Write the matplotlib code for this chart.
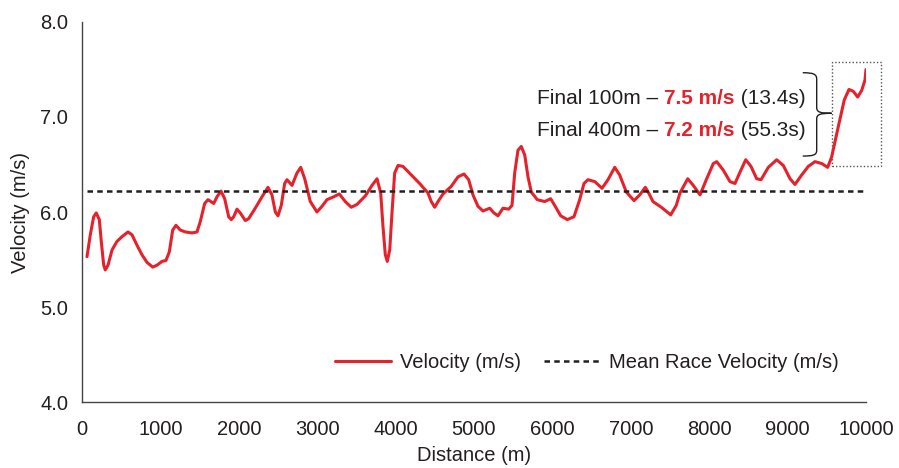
import matplotlib
matplotlib.use("Agg")
import matplotlib.pyplot as plt
from matplotlib.path import Path
from matplotlib.patches import PathPatch, Rectangle
from matplotlib.ticker import FormatStrFormatter

plt.rcParams['font.family'] = ['Liberation Sans', 'DejaVu Sans']

# distance (m) and velocity (m/s)
distance = [64, 106, 149, 182, 221, 246, 277, 297, 332, 383,
            446, 510, 587, 638, 702, 765, 829, 902, 957, 1020,
            1071, 1114, 1157, 1199, 1254, 1318, 1403, 1467, 1509, 1565,
            1607, 1680, 1722, 1773, 1820, 1871, 1904, 1935, 1977, 2019,
            2083, 2126, 2210, 2296, 2372, 2423, 2466, 2500, 2542, 2585,
            2615, 2679, 2742, 2790, 2841, 2912, 2997, 3061, 3125, 3210,
            3282, 3358, 3435, 3508, 3614, 3699, 3763, 3810, 3839, 3869,
            3894, 3925, 3954, 3988, 4031, 4094, 4200, 4307, 4413, 4455,
            4499, 4541, 4605, 4710, 4796, 4872, 4932, 4987, 5051, 5115,
            5200, 5255, 5306, 5370, 5443, 5485, 5519, 5561, 5603, 5647,
            5689, 5731, 5807, 5902, 5978, 6029, 6106, 6190, 6275, 6348,
            6403, 6454, 6540, 6633, 6709, 6795, 6858, 6943, 7041, 7114,
            7185, 7228, 7283, 7389, 7509, 7580, 7627, 7726, 7797, 7883,
            7968, 8052, 8096, 8180, 8265, 8329, 8393, 8466, 8533, 8606,
            8661, 8754, 8861, 8945, 9031, 9094, 9180, 9264, 9349, 9435,
            9511, 9562, 9647, 9723, 9783, 9838, 9894, 9945, 9987, 10000]
velocity = [5.53, 5.76, 5.95, 5.99, 5.92, 5.69, 5.44, 5.39, 5.44, 5.60,
            5.69, 5.74, 5.79, 5.76, 5.65, 5.55, 5.47, 5.42, 5.44, 5.48,
            5.49, 5.58, 5.81, 5.86, 5.81, 5.79, 5.78, 5.79, 5.90, 6.09,
            6.13, 6.09, 6.16, 6.22, 6.14, 5.95, 5.92, 5.95, 6.03, 5.99,
            5.91, 5.93, 6.04, 6.16, 6.26, 6.18, 6.00, 5.96, 6.07, 6.30,
            6.34, 6.28, 6.41, 6.47, 6.35, 6.11, 6.00, 6.06, 6.13, 6.16,
            6.19, 6.11, 6.05, 6.08, 6.17, 6.28, 6.35, 6.20, 5.85, 5.55,
            5.48, 5.60, 5.99, 6.41, 6.49, 6.48, 6.39, 6.30, 6.20, 6.11,
            6.05, 6.11, 6.19, 6.27, 6.37, 6.40, 6.34, 6.18, 6.06, 6.01,
            6.04, 5.99, 5.96, 6.04, 6.03, 6.07, 6.41, 6.65, 6.69, 6.60,
            6.37, 6.21, 6.13, 6.11, 6.14, 6.07, 5.96, 5.92, 5.95, 6.13,
            6.30, 6.34, 6.32, 6.25, 6.34, 6.47, 6.39, 6.21, 6.12, 6.18,
            6.26, 6.20, 6.11, 6.05, 5.97, 6.07, 6.20, 6.35, 6.28, 6.18,
            6.35, 6.51, 6.53, 6.44, 6.32, 6.30, 6.42, 6.55, 6.48, 6.35,
            6.34, 6.47, 6.55, 6.49, 6.35, 6.29, 6.39, 6.48, 6.53, 6.51,
            6.47, 6.58, 6.90, 7.18, 7.29, 7.27, 7.21, 7.28, 7.39, 7.50]

mean_velocity = 6.22
mean_range = [60, 10000]

x_ticks = list(range(0, 10001, 1000))
y_ticks = [4.0, 5.0, 6.0, 7.0, 8.0]

# annotation text
final_lines = [("Final 100m \u2013 ", "7.5 m/s", " (13.4s)"),
               ("Final 400m \u2013 ", "7.2 m/s", " (55.3s)")]

red = '#e5222b'
dark = '#231f20'
fs = 14.5

fig = plt.figure(figsize=(8.99, 4.68), dpi=100)
ax = fig.add_axes([0.0912, 0.141, 0.8721, 0.812])

ax.plot(distance, velocity, color=red, lw=2.2, solid_joinstyle='round',
        solid_capstyle='round', label='Velocity (m/s)')
ax.plot(mean_range, [mean_velocity, mean_velocity], color=dark, lw=1.8,
        linestyle=(0, (2.2, 1.7)), label='Mean Race Velocity (m/s)')

ax.set_xlim(0, 10000)
ax.set_ylim(4.0, 8.0)
ax.set_xticks(x_ticks)
ax.set_yticks(y_ticks)
ax.yaxis.set_major_formatter(FormatStrFormatter('%.1f'))
ax.tick_params(length=0, labelsize=fs, colors=dark)
ax.tick_params(axis='y', pad=10)
ax.tick_params(axis='x', pad=13)
for s in ['top', 'right']:
    ax.spines[s].set_visible(False)
for s in ['left', 'bottom']:
    ax.spines[s].set_color('#444444')
    ax.spines[s].set_linewidth(1.0)

ax.set_xlabel('Distance (m)', fontsize=fs, color=dark, labelpad=5)
ax.set_ylabel('Velocity (m/s)', fontsize=fs, color=dark, labelpad=7)

leg = ax.legend(loc='center', bbox_to_anchor=(0.644, 0.103), ncol=2, frameon=False,
                fontsize=fs, handlelength=2.8, handletextpad=0.45, columnspacing=1.1)
for t in leg.get_texts():
    t.set_color(dark)

# text with coloured parts
for (a, b, c), yv in zip(final_lines, [7.19, 6.86]):
    t1 = ax.text(5804, yv, a, fontsize=15, color=dark, va='center', ha='left')
    t2 = ax.annotate(b, xy=(1, 0.5), xycoords=t1, fontsize=15, color=red,
                     fontweight='bold', va='center', ha='left')
    ax.annotate(c, xy=(1, 0.5), xycoords=t2, fontsize=15, color=dark,
                va='center', ha='left')

# curly brace
verts = [(9193, 7.466), (9330, 7.466), (9371, 7.45), (9371, 7.40),
         (9371, 7.10),
         (9371, 7.05), (9420, 7.039), (9562, 7.039),
         (9420, 7.039), (9371, 7.03), (9371, 6.98),
         (9371, 6.65),
         (9371, 6.60), (9330, 6.589), (9193, 6.589)]
codes = [Path.MOVETO, Path.CURVE4, Path.CURVE4, Path.CURVE4,
         Path.LINETO,
         Path.CURVE4, Path.CURVE4, Path.CURVE4,
         Path.CURVE4, Path.CURVE4, Path.CURVE4,
         Path.LINETO,
         Path.CURVE4, Path.CURVE4, Path.CURVE4]
ax.add_patch(PathPatch(Path(verts, codes), fill=False, lw=1.0, edgecolor=dark))

# dotted box around the last 400 m
ax.add_patch(Rectangle((9563, 6.484), 624, 1.098, fill=False, lw=1.0,
                       linestyle=(0, (1, 1.5)), edgecolor='#555555', clip_on=False))

fig.savefig('out.png', dpi=100)
